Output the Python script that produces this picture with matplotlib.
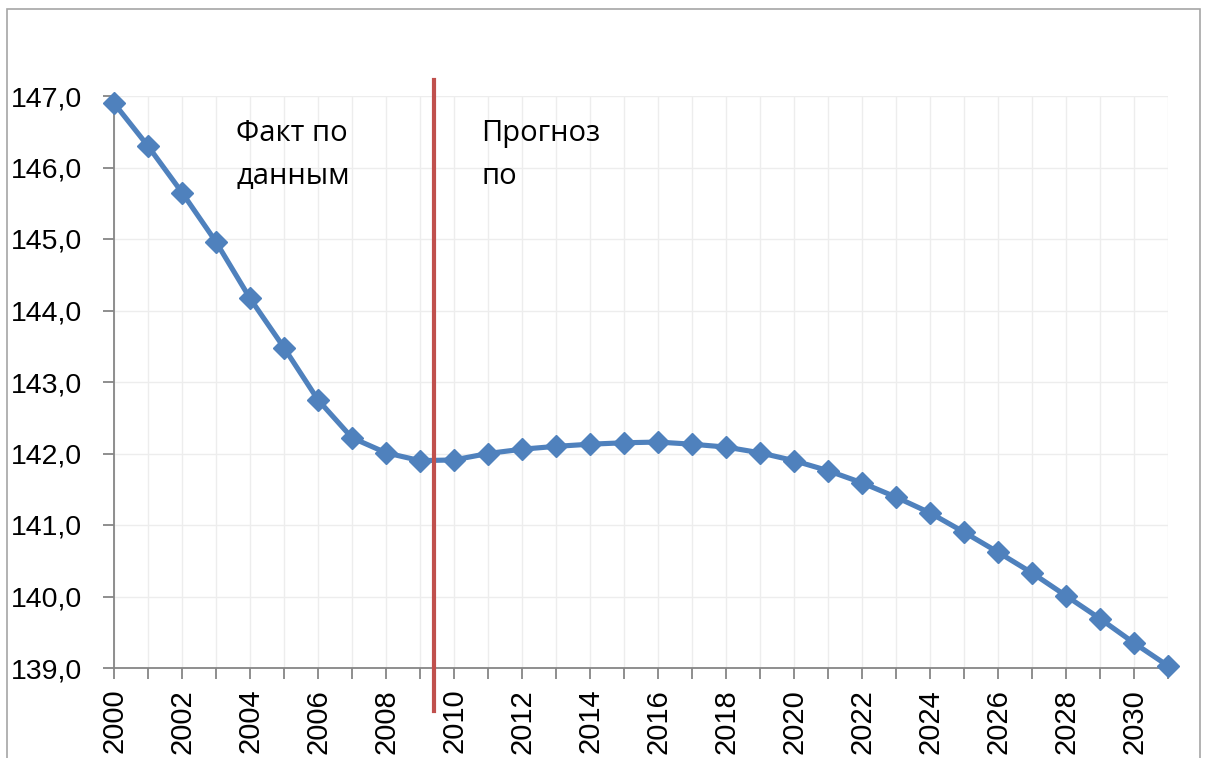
import matplotlib
matplotlib.use("Agg")
import matplotlib.pyplot as plt
from matplotlib.patches import Rectangle

years = list(range(2000, 2032))
population = [146.90, 146.30, 145.65, 144.96, 144.17, 143.48, 142.75, 142.22,
              142.01, 141.90, 141.91, 142.00, 142.06, 142.10, 142.13, 142.15,
              142.16, 142.13, 142.09, 142.01, 141.90, 141.76, 141.59, 141.39,
              141.17, 140.90, 140.62, 140.33, 140.01, 139.69, 139.35, 139.03]
split_year = 2009.4
y_ticks = [139, 140, 141, 142, 143, 144, 145, 146, 147]
x_label_years = list(range(2000, 2031, 2))
fact_text = "Факт по\nданным"
forecast_text = "Прогноз\nпо"

plt.rcParams['font.family'] = ['Liberation Sans', 'DejaVu Sans']

W, H = 1205, 758
fig = plt.figure(figsize=(W / 100, H / 100), dpi=100)
fig.patch.set_facecolor("white")

# outer chart frame
fig.add_artist(Rectangle((7 / W, -0.05), (1200 - 7) / W, 1 - 9 / H + 0.05,
                         transform=fig.transFigure, fill=False,
                         edgecolor="#A6A6A6", linewidth=1.2))

ax = fig.add_axes([114 / W, 1 - 668 / H, (1168 - 114) / W, (668 - 96) / H])
ax.set_xlim(2000, 2031)
ax.set_ylim(139, 147)

grid_c = "#EDEDED"
ax.set_xticks(years)
ax.set_yticks(y_ticks)
ax.grid(True, color=grid_c, linewidth=1.0)
ax.set_axisbelow(True)

ax.set_xticklabels([str(y) if y in x_label_years else "" for y in years],
                   rotation=90, fontsize=21)
ax.set_yticklabels([f"{v:.1f}".replace(".", ",") for v in y_ticks], fontsize=20.5)

for s in ["top", "right"]:
    ax.spines[s].set_visible(False)
for s in ["left", "bottom"]:
    ax.spines[s].set_color("#868686")
    ax.spines[s].set_linewidth(1.3)
ax.tick_params(axis="both", direction="out", length=8, width=1.3,
               color="#868686", labelcolor="black")
ax.tick_params(axis="x", pad=7)
ax.tick_params(axis="y", pad=15)

ax.plot(years, population, color="#4F81BD", linewidth=3.7, marker="D",
        markersize=11, markerfacecolor="#4F81BD", markeredgecolor="#4F81BD",
        clip_on=False, zorder=3)

ax.plot([split_year, split_year], [147.22, 138.4], color="#C0504D",
        linewidth=3.0, clip_on=False, zorder=4)

ax.text(2003.6, 146.68, fact_text, fontsize=21, va="top", ha="left",
        linespacing=1.62, family=['Open Sans', 'DejaVu Sans'])
ax.text(2010.8, 146.68, forecast_text, fontsize=21, va="top", ha="left",
        linespacing=1.62, family=['Open Sans', 'DejaVu Sans'])

fig.savefig("out.png", dpi=100)
